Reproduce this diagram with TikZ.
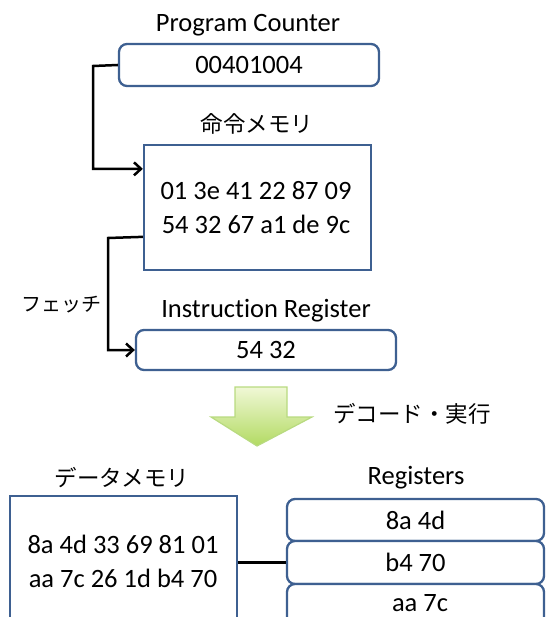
\documentclass[tikz,border=0pt]{standalone}
\usepackage{fontspec}
\setmainfont{Carlito}[Ligatures=NoCommon]
\newfontfamily\jp{Noto Sans CJK JP}
\usetikzlibrary{arrows.meta}
\definecolor{boxblue}{RGB}{62,96,145}
\definecolor{arrowtop}{RGB}{240,248,214}
\definecolor{arrowbot}{RGB}{178,218,98}
\definecolor{arrowline}{RGB}{184,218,128}
\tikzset{
  regbox/.style={draw=boxblue, line width=2.3pt, rounded corners=8pt, fill=white,
    inner sep=0pt, font=\fontsize{26.5}{30}\selectfont},
  membox/.style={draw=boxblue, line width=2.3pt, fill=white, inner sep=0pt},
  title/.style={font=\fontsize{26.5}{30}\selectfont, inner sep=0pt},
  hexlines/.style={inner sep=0pt, align=center, font=\fontsize{26.5}{34}\selectfont},
  jptitle/.style={font=\jp\fontsize{22.5}{26}\selectfont, inner sep=0pt},
  wire/.style={draw=black, line width=2.5pt},
  feed/.style={wire, -{Straight Barb[length=7pt,width=13pt,line width=2.5pt]}},
}
\begin{document}
\begin{tikzpicture}[x=1pt,y=-1pt]
\useasboundingbox (0,0) rectangle (545,617);
\clip (0,0) rectangle (545,617);

% program counter
\node[title] (pclabel) at (248,25) {Program Counter};
\node[regbox, minimum width=260pt, minimum height=42pt] (pc) at (249,65) {00401004};

% instruction memory
\node[jptitle] (imlabel) at (257,124) {命令メモリ};
\node[membox, minimum width=227pt, minimum height=125pt] (imem) at (257.5,207.5) {};
\node[hexlines] (imtext) at (256,208) {01 3e 41 22 87 09\\54 32 67 a1 de 9c};

% instruction register
\node[title] (irlabel) at (266,311) {Instruction Register};
\node[regbox, minimum width=260pt, minimum height=40pt] (ir) at (266,350) {54 32};
\node[jptitle, font=\jp\fontsize{20}{24}\selectfont] (fetch) at (61,305) {フェッチ};

% connectors
\coordinate (pcturn) at (93,66);
\draw[feed] (pc.west) -- (pcturn) |- ([yshift=-25pt]imem.north west);
\coordinate (imturn) at (108,238);
\draw[feed] ([yshift=-93pt]imem.north west) -- (imturn) |- (ir.west);

% decode / execute arrow
\path[draw=arrowline, line width=1.2pt, top color=arrowtop, bottom color=arrowbot]
  (235,387) -- (287,387) -- (287,417) -- (312,417) -- (257,446)
  -- (211,417) -- (235,417) -- cycle;
\node[jptitle] (decode) at (412,414) {デコード・実行};

% data memory
\node[jptitle] (dmlabel) at (122,478) {データメモリ};
\node[membox, minimum width=227pt, minimum height=160pt] (dmem) at (123.5,576) {};
\node[hexlines] (dmtext) at (123,561) {8a 4d 33 69 81 01\\aa 7c 26 1d b4 70};

% register file
\node[title] (rflabel) at (416,478) {Registers};
\node[regbox, minimum width=257pt, minimum height=42pt] (r1) at (415.5,520) {8a 4d};
\node[regbox, minimum width=257pt, minimum height=43pt] (r2) at (415.5,562.5) {b4 70};
\node[regbox, minimum width=257pt, minimum height=50pt] (r3) at (415.5,609) {};
\node[title] (r3text) at (420,603) {aa 7c};

\draw[wire] (dmem.east |- r2.west) -- (r2.west);
\end{tikzpicture}
\end{document}
